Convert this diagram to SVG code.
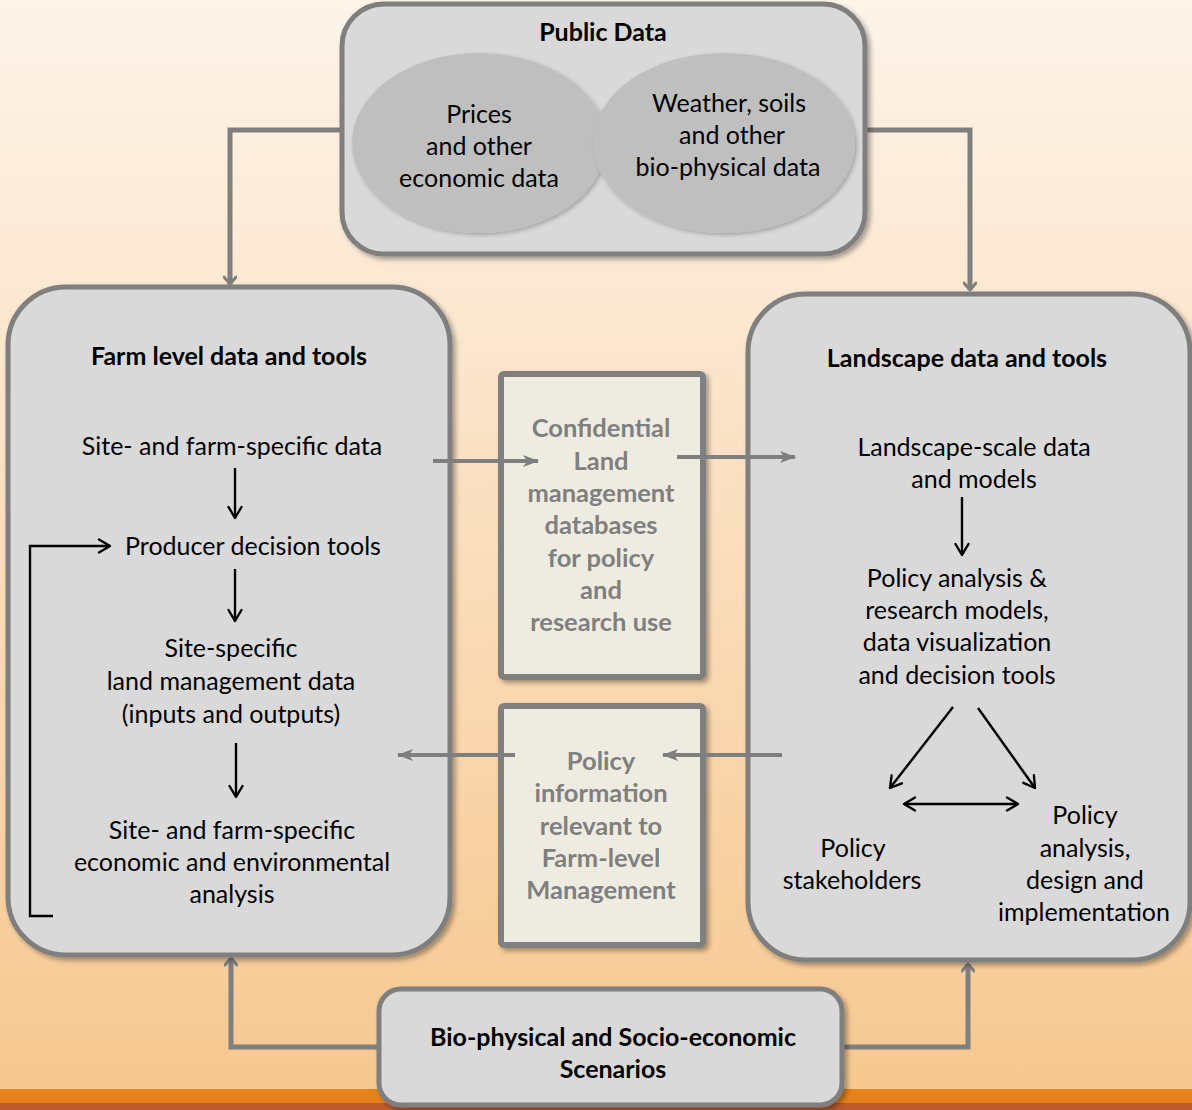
<svg xmlns="http://www.w3.org/2000/svg" width="1192" height="1110" viewBox="0 0 1192 1110">
<defs>
<linearGradient id="bg" x1="0" y1="0" x2="0" y2="1">
<stop offset="0" stop-color="#fdf4ea"/>
<stop offset="0.35" stop-color="#fbe4ca"/>
<stop offset="1" stop-color="#f6c78e"/>
</linearGradient>
<filter id="sh" x="-10%" y="-10%" width="125%" height="125%">
<feDropShadow dx="3" dy="3" stdDeviation="2.5" flood-color="#000" flood-opacity="0.35"/>
</filter>
<filter id="sh2" x="-10%" y="-10%" width="125%" height="125%">
<feDropShadow dx="2" dy="2" stdDeviation="2" flood-color="#000" flood-opacity="0.25"/>
</filter>
<marker id="gv" viewBox="0 0 14 14" refX="12" refY="7" markerWidth="14" markerHeight="14" markerUnits="userSpaceOnUse" orient="auto">
<path d="M5,1 L12,7 L5,13" fill="none" stroke="#7f7f7f" stroke-width="3" stroke-linecap="round" stroke-linejoin="round"/>
</marker>
<marker id="gt" viewBox="0 0 16 12" refX="15" refY="6" markerWidth="16" markerHeight="12" markerUnits="userSpaceOnUse" orient="auto">
<path d="M0,0 L16,6 L0,12 L4,6 Z" fill="#7f7f7f"/>
</marker>
<marker id="bv" viewBox="0 0 16 16" refX="14" refY="8" markerWidth="16" markerHeight="16" markerUnits="userSpaceOnUse" orient="auto-start-reverse">
<path d="M3,1.5 L14,8 L3,14.5" fill="none" stroke="#000" stroke-width="2.4" stroke-linecap="round" stroke-linejoin="round"/>
</marker>
<style>
.box{fill:#d9d9d9;stroke:#7f7f7f;stroke-width:5;filter:url(#sh)}
.mid{fill:#eeece1;stroke:#7f7f7f;stroke-width:6;filter:url(#sh)}
.ell{fill:#bfbfbf;filter:url(#sh2)}
.t{font-family:Lato,"Liberation Sans",sans-serif;font-size:25px;fill:#000;text-anchor:middle}
.b{font-family:Lato,"Liberation Sans",sans-serif;font-size:25px;font-weight:bold;fill:#000;text-anchor:middle}
.g{font-family:Lato,"Liberation Sans",sans-serif;font-size:25.5px;font-weight:bold;fill:#7f7f7f;text-anchor:middle}
.gc{fill:none;stroke:#7f7f7f;stroke-width:5}
.ga{fill:none;stroke:#7f7f7f;stroke-width:4}
.bc{fill:none;stroke:#000;stroke-width:2.4}
</style>
</defs>
<rect x="0" y="0" width="1192" height="1110" fill="url(#bg)"/>
<rect x="0" y="1089" width="1192" height="14" fill="#e5821a"/>
<rect x="0" y="1103" width="1192" height="7" fill="#bd5b2f"/>

<g id="connectors">
<path class="gc" d="M342,130 H230 V284" marker-end="url(#gv)"/>
<path class="gc" d="M865,130 H970 V290" marker-end="url(#gv)"/>
<path class="gc" d="M378,1047 H231 V958" marker-end="url(#gv)"/>
<path class="gc" d="M842,1047 H968 V964" marker-end="url(#gv)"/>
</g>

<g id="public-data">
<rect class="box" x="342" y="4" width="523" height="250" rx="42"/>
<text class="b" x="603" y="41">Public Data</text>
<ellipse class="ell" cx="479" cy="143" rx="127" ry="90"/>
<ellipse class="ell" cx="724" cy="143" rx="131" ry="90"/>
<text class="t" x="479" y="123">Prices</text>
<text class="t" x="479" y="155">and other</text>
<text class="t" x="479" y="187">economic data</text>
<text class="t" x="729" y="112">Weather, soils</text>
<text class="t" x="732" y="144">and other</text>
<text class="t" x="728" y="176">bio-physical data</text>
</g>

<g id="farm-level">
<rect class="box" x="8" y="287" width="442" height="668" rx="58"/>
<text class="b" x="229" y="365">Farm level data and tools</text>
<text class="t" x="232" y="455">Site- and farm-specific data</text>
<text class="t" x="253" y="555">Producer decision tools</text>
<text class="t" x="231" y="657">Site-specific</text>
<text class="t" x="231" y="690">land management data</text>
<text class="t" x="231" y="723">(inputs and outputs)</text>
<text class="t" x="232" y="839">Site- and farm-specific</text>
<text class="t" x="232" y="871">economic and environmental</text>
<text class="t" x="232" y="903">analysis</text>
<path class="bc" d="M235,468 V518" marker-end="url(#bv)"/>
<path class="bc" d="M235,569 V621" marker-end="url(#bv)"/>
<path class="bc" d="M236,743 V797" marker-end="url(#bv)"/>
<path class="bc" d="M53,916 H30 V546 H110" marker-end="url(#bv)"/>
</g>

<g id="landscape">
<rect class="box" x="748" y="294" width="442" height="666" rx="58"/>
<text class="b" x="967" y="367">Landscape data and tools</text>
<text class="t" x="974" y="456">Landscape-scale data</text>
<text class="t" x="974" y="488">and models</text>
<path class="bc" d="M962,497 V555" marker-end="url(#bv)"/>
<text class="t" x="957" y="587">Policy analysis &amp;</text>
<text class="t" x="957" y="619">research models,</text>
<text class="t" x="957" y="651">data visualization</text>
<text class="t" x="957" y="684">and decision tools</text>
<path class="bc" d="M953,707 L890,788" marker-end="url(#bv)"/>
<path class="bc" d="M978,708 L1035,788" marker-end="url(#bv)"/>
<path class="bc" d="M904,804 H1018" marker-start="url(#bv)" marker-end="url(#bv)"/>
<text class="t" x="853" y="857">Policy</text>
<text class="t" x="852" y="889">stakeholders</text>
<text class="t" x="1085" y="824">Policy</text>
<text class="t" x="1085" y="857">analysis,</text>
<text class="t" x="1085" y="889">design and</text>
<text class="t" x="1084" y="921">implementation</text>
</g>

<g id="confidential-db">
<rect class="mid" x="501" y="374" width="202" height="303" rx="3"/>
<text class="g" x="601" y="437">Confidential</text>
<text class="g" x="601" y="470">Land</text>
<text class="g" x="601" y="502">management</text>
<text class="g" x="601" y="534">databases</text>
<text class="g" x="601" y="567">for policy</text>
<text class="g" x="601" y="599">and</text>
<text class="g" x="601" y="631">research use</text>
</g>

<g id="policy-info">
<rect class="mid" x="501" y="706" width="202" height="239" rx="3"/>
<text class="g" x="601" y="770">Policy</text>
<text class="g" x="601" y="802">information</text>
<text class="g" x="601" y="835">relevant to</text>
<text class="g" x="601" y="867">Farm-level</text>
<text class="g" x="601" y="899">Management</text>
</g>

<g id="mid-arrows">
<path class="ga" d="M433,461 H538" marker-end="url(#gt)"/>
<path class="ga" d="M677,457 H795" marker-end="url(#gt)"/>
<path class="ga" d="M515,755 H398" marker-end="url(#gt)"/>
<path class="ga" d="M782,755 H663" marker-end="url(#gt)"/>
</g>

<g id="scenarios">
<rect class="box" x="379" y="989" width="463" height="116" rx="22"/>
<text class="b" x="613" y="1046">Bio-physical and Socio-economic</text>
<text class="b" x="613" y="1078">Scenarios</text>
</g>
</svg>
